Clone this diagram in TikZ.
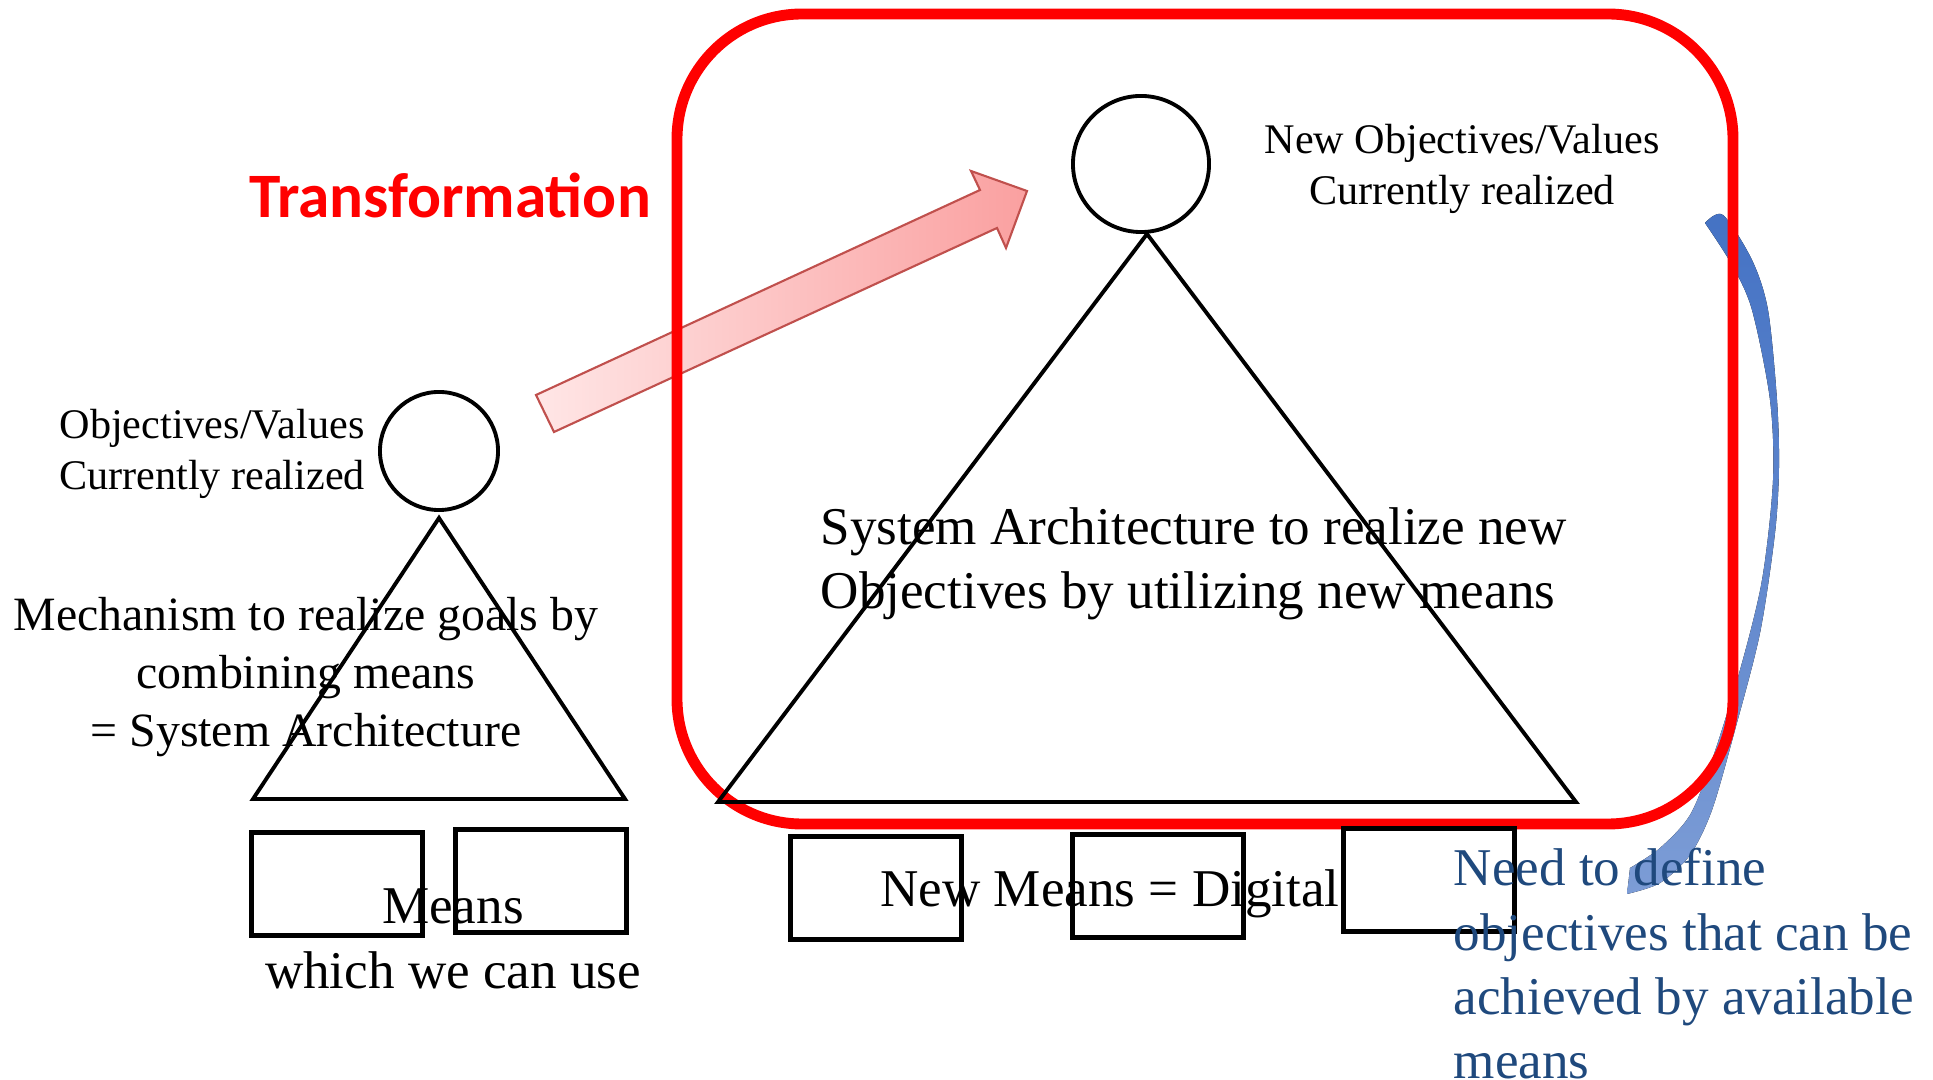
\documentclass[tikz,border=0pt]{standalone}
\usepackage{fontspec}
\setmainfont{Liberation Serif}
\newfontfamily\calibfont{Carlito}
\usetikzlibrary{positioning, arrows.meta, shapes}

\definecolor{framered}{RGB}{255,0,0}
\definecolor{pinklight}{RGB}{255,230,230}
\definecolor{pinkdark}{RGB}{250,160,160}
\definecolor{pinkedge}{RGB}{192,80,77}
\definecolor{curveblue}{RGB}{68,114,196}
\definecolor{noteblue}{RGB}{31,73,125}

\begin{document}
\begin{tikzpicture}[x=0.01cm, y=-0.01cm,
    goal/.style={draw, circle, line width=1.1pt},
    meansbox/.style={draw, line width=1.2pt, minimum width=1.71cm, minimum height=1.03cm},
    label12/.style={font=\fontsize{12}{14.5}\selectfont, align=center, inner sep=0pt},
    label15/.style={font=\fontsize{15.1}{18.3}\selectfont, inner sep=0pt}]
    \useasboundingbox (0,0) rectangle (1933,1080);

    % Curved note band and transformation arrow
    \fill[top color=curveblue, bottom color=curveblue!70] plot[smooth] coordinates {(1705,223) (1723,215) (1752,260) (1768,310) (1777,400) (1779,467) (1775,533) (1760,633) (1735,730) (1712,810) (1690,855) (1660,883) (1627,894)}
        -- plot[smooth] coordinates {(1630,868) (1660,848) (1690,815) (1712,760) (1740,670) (1762,580) (1773,480) (1770,400) (1752,310) (1732,265) (1705,223)} -- cycle;
    \coordinate (shift tip) at (1027,191);
    \draw[draw=pinkedge, line width=0.6pt, left color=pinklight, right color=pinkdark] (536,395) -- (980,190) -- (971,171) -- (shift tip) -- (1006,248) -- (997,228) -- (554,432) -- cycle;

    % Frame
    \draw[framered, line width=3.1pt, rounded corners=1.25cm] (677,14) rectangle (1733,824);

    % Nodes
    \node[goal, minimum size=1.18cm] (old goal) at (439,451) {};
    \node[goal, minimum size=1.36cm] (new goal) at (1141,164) {};
    \node[label12] (old goal text) at (212,454) {Objectives/Values\\Currently realized};
    \node[label12] (new goal text) at (1462,169) {New Objectives/Values\\Currently realized};
    \draw[line width=1.1pt] (439,518) -- (625,799) -- (253,799) -- cycle;
    \draw[line width=1.1pt] (1147,234) -- (1576,802) -- (718,802) -- cycle;
    \node[meansbox] (old means a) at (337,884) {};
    \node[meansbox] (old means b) at (541,881) {};
    \node[meansbox] (new means a) at (876,888) {};
    \node[meansbox] (new means b) at (1158,886) {};
    \node[meansbox] (new means c) at (1429,880) {};

    % Texts
    \node[label15, align=center] (old means text) at (453,939) {Means\\which we can use};
    \node[label15] (new means text) at (1110,894) {New Means = Digital};
    \node[font=\fontsize{13.6}{16.5}\selectfont, align=center, inner sep=0pt] (old arch text) at (306,677) {Mechanism to realize goals by\\combining means\\= System Architecture};
    \node[label15, align=left, anchor=west] (new arch text) at (820,564) {System Architecture to realize new\\Objectives by utilizing new means};
    \node[label15, align=left, anchor=west, text=noteblue] (note) at (1453,964) {Need to define\\objectives that can be\\achieved by available\\means};
    \node[font=\calibfont\bfseries\fontsize{18}{22}\selectfont, text=framered, inner sep=0pt] (shift label) at (450,195) {Transformation};
\end{tikzpicture}
\end{document}
